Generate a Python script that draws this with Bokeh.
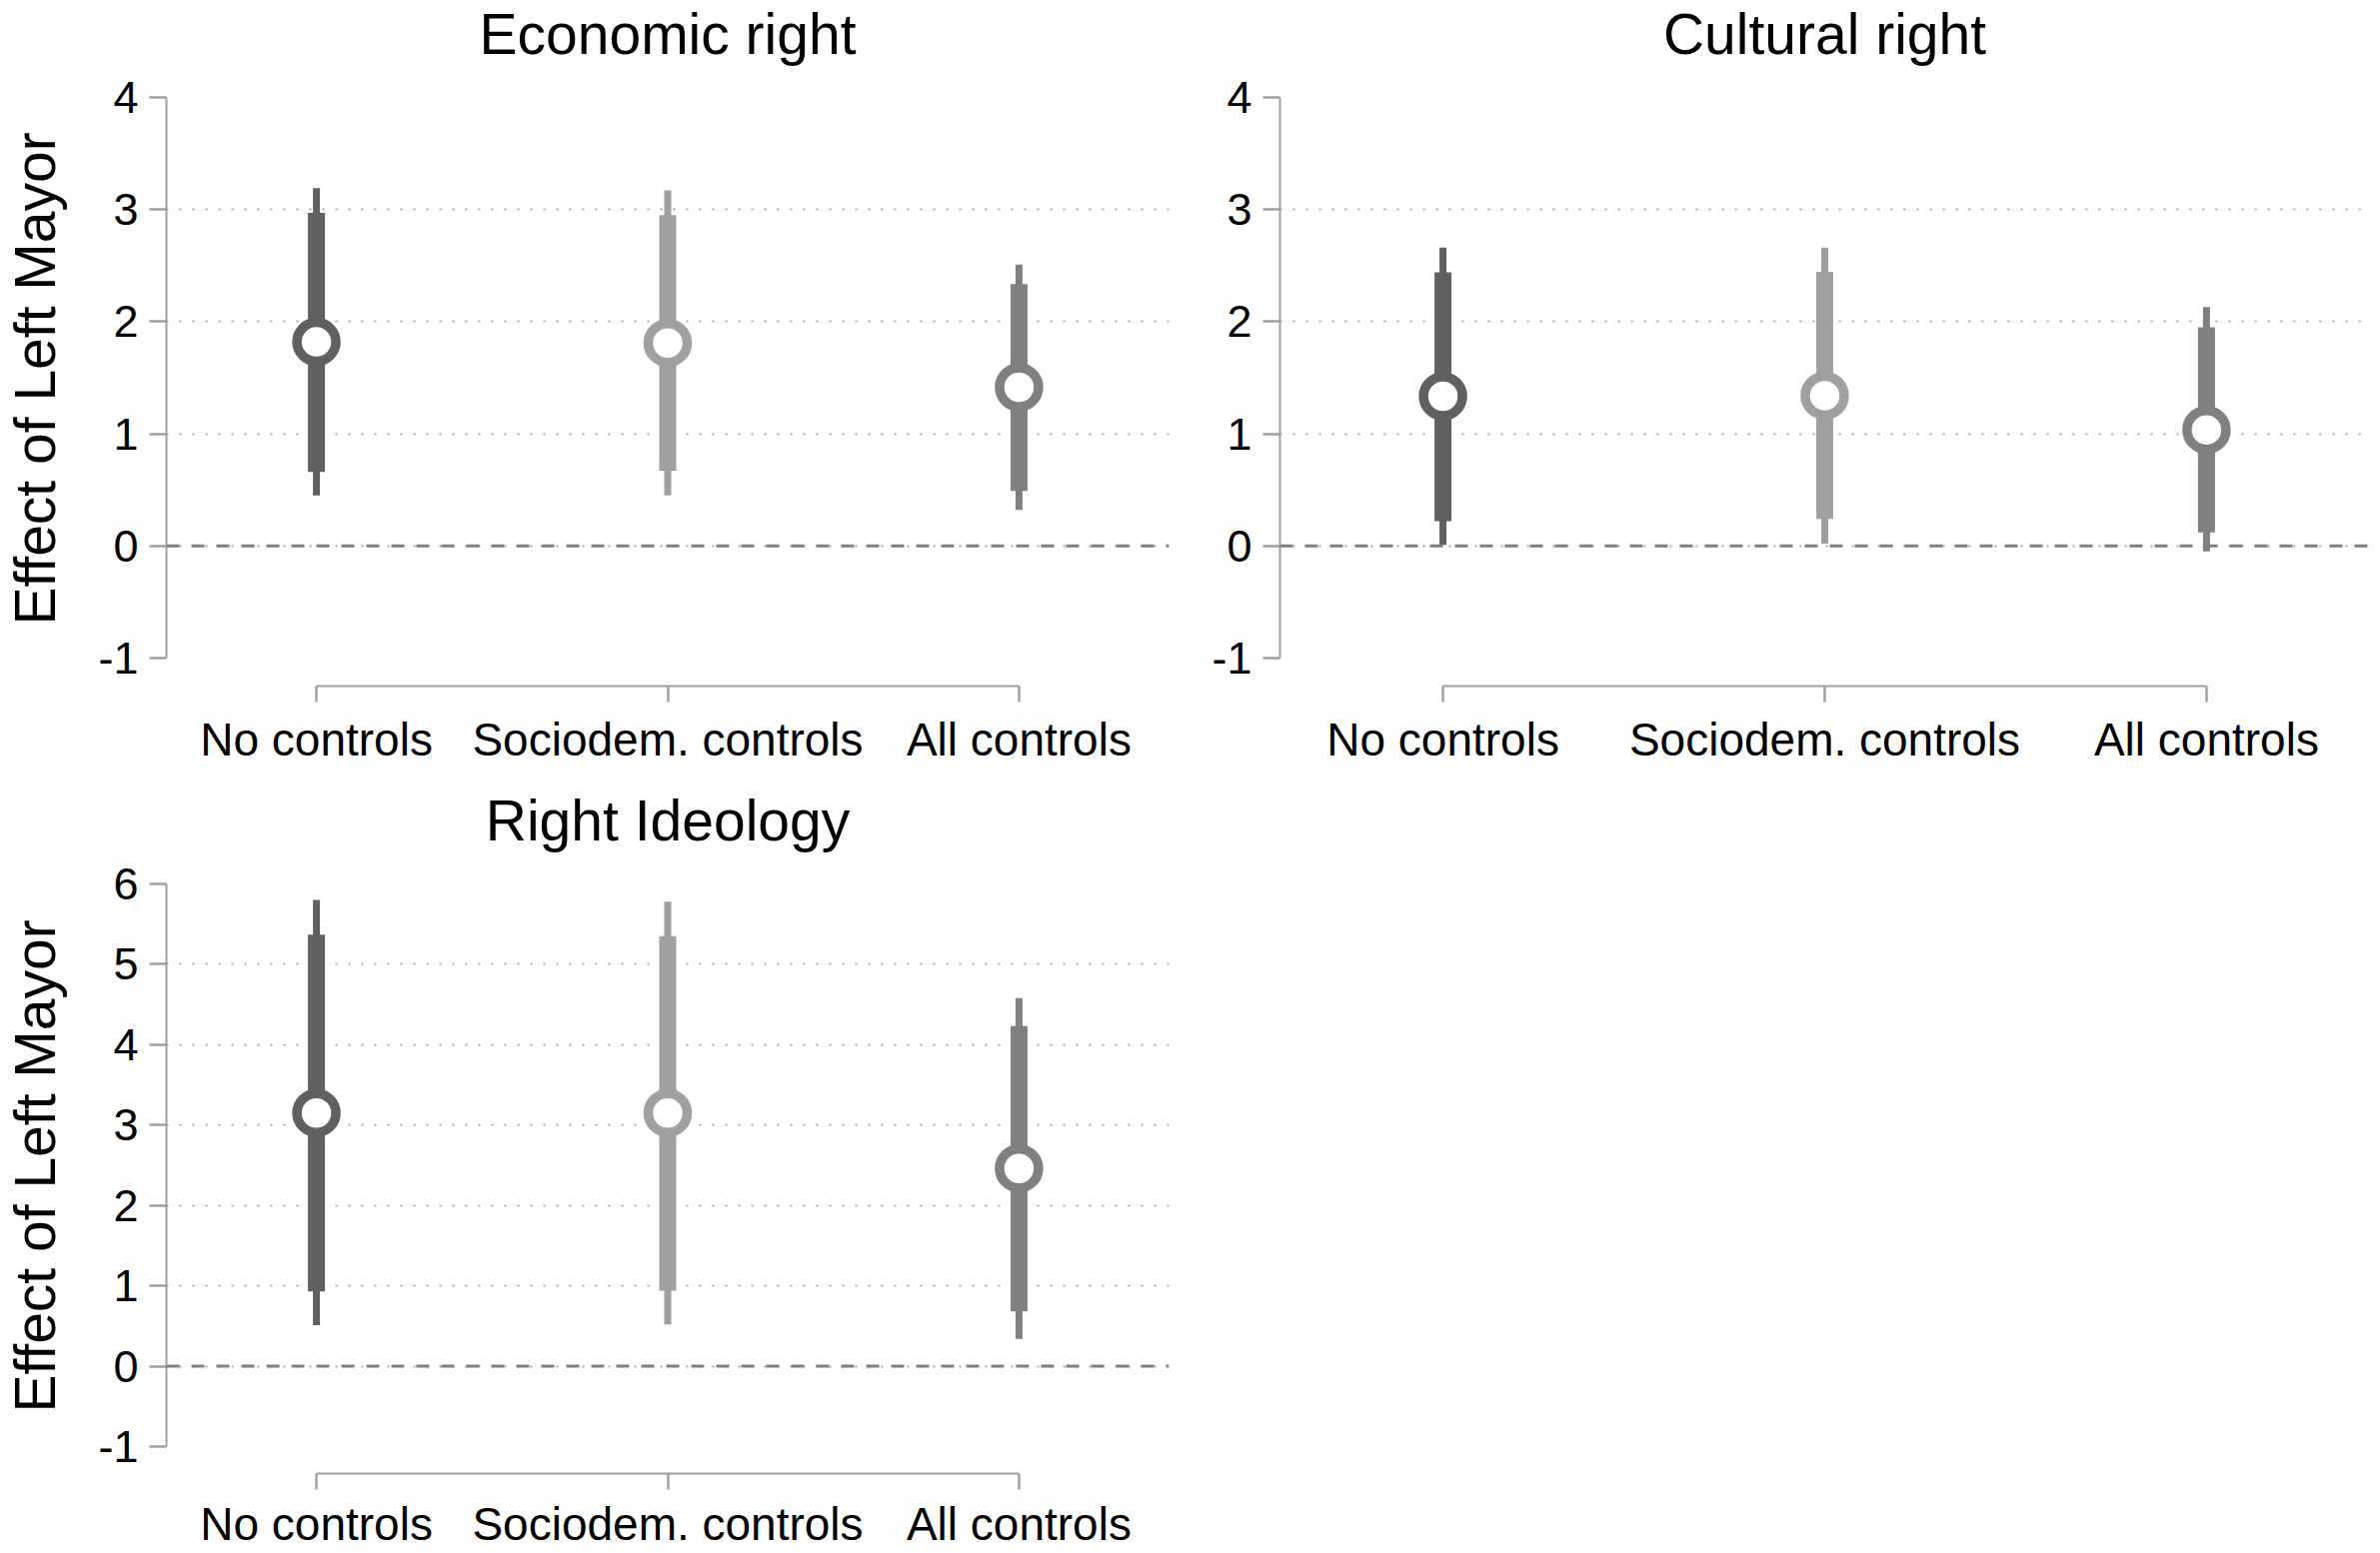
from bokeh.plotting import figure
from bokeh.layouts import column, row
from bokeh.models import Range1d, FixedTicker, Span, ColumnDataSource, Title
from bokeh.embed import file_html
from bokeh.resources import INLINE

categories = ["No controls", "Sociodem. controls", "All controls"]
colors = ["#606060", "#a0a0a0", "#808080"]

econ_est = [1.82, 1.81, 1.415]
econ_lo_in = [0.66, 0.67, 0.49]
econ_hi_in = [2.97, 2.95, 2.335]
econ_lo_out = [0.45, 0.45, 0.32]
econ_hi_out = [3.19, 3.17, 2.51]

cult_est = [1.335, 1.34, 1.035]
cult_lo_in = [0.22, 0.24, 0.12]
cult_hi_in = [2.44, 2.445, 1.95]
cult_lo_out = [0.01, 0.02, -0.05]
cult_hi_out = [2.66, 2.66, 2.13]

ideo_est = [3.15, 3.15, 2.46]
ideo_lo_in = [0.93, 0.94, 0.68]
ideo_hi_in = [5.37, 5.35, 4.23]
ideo_lo_out = [0.51, 0.52, 0.34]
ideo_hi_out = [5.80, 5.78, 4.58]

ticks_small = [-1, 0, 1, 2, 3, 4]
grid_small = [0, 1, 2, 3]
ticks_big = [-1, 0, 1, 2, 3, 4, 5, 6]
grid_big = [0, 1, 2, 3, 4, 5, 6]

FONT = "Liberation Sans"
AXIS_GRAY = "#a0a0a0"


def make_panel(title, est, lo_in, hi_in, lo_out, hi_out, y_start, y_end,
               yticks, gridticks, fw, fh, bl, br, bt, bb,
               xlab_standoff, ylabel=None):
    p = figure(output_backend="svg", toolbar_location=None,
               frame_width=fw, frame_height=fh,
               x_range=Range1d(0.573, 3.427), y_range=Range1d(y_start, y_end),
               min_border_left=bl, min_border_right=br,
               min_border_top=bt, min_border_bottom=bb,
               background_fill_color="white", border_fill_color="white")
    p.outline_line_color = None
    p.title.text = title
    p.title.align = "center"
    p.title.vertical_align = "top"
    p.title.text_font = FONT
    p.title.text_font_size = "57px"
    p.title.text_font_style = "normal"
    p.title.text_color = "black"
    p.title.standoff = 0
    # spacer between the panel title and the plot area
    p.add_layout(Title(text=" ", text_font_size="1px", standoff=27), "above")

    xs = list(range(1, len(categories) + 1))
    src = ColumnDataSource(dict(x=xs, est=est, lo_in=lo_in, hi_in=hi_in,
                                lo_out=lo_out, hi_out=hi_out, color=colors))

    # grid
    p.xgrid.grid_line_color = None
    p.ygrid.ticker = FixedTicker(ticks=gridticks)
    p.ygrid.grid_line_color = "#a8a8a8"
    p.ygrid.grid_line_width = 2
    p.ygrid.grid_line_dash = "2 11"

    p.add_layout(Span(location=0, dimension="width", line_color="#808080",
                      line_width=3, line_dash="13 12"))

    p.segment(x0="x", y0="lo_out", x1="x", y1="hi_out", source=src,
              line_color="color", line_width=7, line_cap="butt")
    p.segment(x0="x", y0="lo_in", x1="x", y1="hi_in", source=src,
              line_color="color", line_width=17, line_cap="butt")
    p.scatter(x="x", y="est", source=src, marker="circle", size=39,
              fill_color="white", line_color="color", line_width=9.5)

    # x axis
    xa = p.xaxis[0]
    xa.ticker = FixedTicker(ticks=xs)
    xa.major_label_overrides = {i: c for i, c in zip(xs, categories)}
    xa.bounds = (1, 3)
    xa.axis_line_color = AXIS_GRAY
    xa.axis_line_width = 2
    xa.major_tick_line_color = AXIS_GRAY
    xa.major_tick_line_width = 2.5
    xa.major_tick_out = 16
    xa.major_tick_in = 0
    xa.minor_tick_line_color = None
    xa.major_label_text_font = FONT
    xa.major_label_text_font_size = "46px"
    xa.major_label_text_color = "black"
    xa.major_label_standoff = xlab_standoff

    # y axis
    ya = p.yaxis[0]
    ya.ticker = FixedTicker(ticks=yticks)
    ya.major_label_overrides = {t: str(t) for t in yticks}
    ya.bounds = (yticks[0], yticks[-1])
    ya.axis_line_color = AXIS_GRAY
    ya.axis_line_width = 2
    ya.major_tick_line_color = AXIS_GRAY
    ya.major_tick_line_width = 2.5
    ya.major_tick_out = 17
    ya.major_tick_in = 0
    ya.minor_tick_line_color = None
    ya.major_label_text_font = FONT
    ya.major_label_text_font_size = "45px"
    ya.major_label_text_color = "black"
    ya.major_label_standoff = 11
    if ylabel:
        # y label centred on the -1..top part of the axis
        p.add_layout(Title(text=" ", text_font_size="1px", standoff=26), "left")
        p.add_layout(Title(text=ylabel, align="left", offset=61,
                           text_font=FONT, text_font_size="57px",
                           text_font_style="normal", text_color="black",
                           standoff=0), "left")
    return p


ylab = "Effect of Left Mayor"

p1 = make_panel("Economic right", econ_est, econ_lo_in, econ_hi_in, econ_lo_out,
                econ_hi_out, -1.25, 4, ticks_small, grid_small,
                1003, 589, 165, 20, 97, 101, 11, ylab)
p2 = make_panel("Cultural right", cult_est, cult_lo_in, cult_hi_in, cult_lo_out,
                cult_hi_out, -1.25, 4, ticks_small, grid_small,
                1090, 589, 91, 5, 97, 101, 11, None)
p3 = make_panel("Right Ideology", ideo_est, ideo_lo_in, ideo_hi_in, ideo_lo_out,
                ideo_hi_out, -1.336, 6, ticks_big, grid_big,
                1003, 590, 165, 20, 97, 70, 8, ylab)

layout = column(row(p1, p2), p3)
open("out.html", "w").write(file_html(layout, INLINE))
